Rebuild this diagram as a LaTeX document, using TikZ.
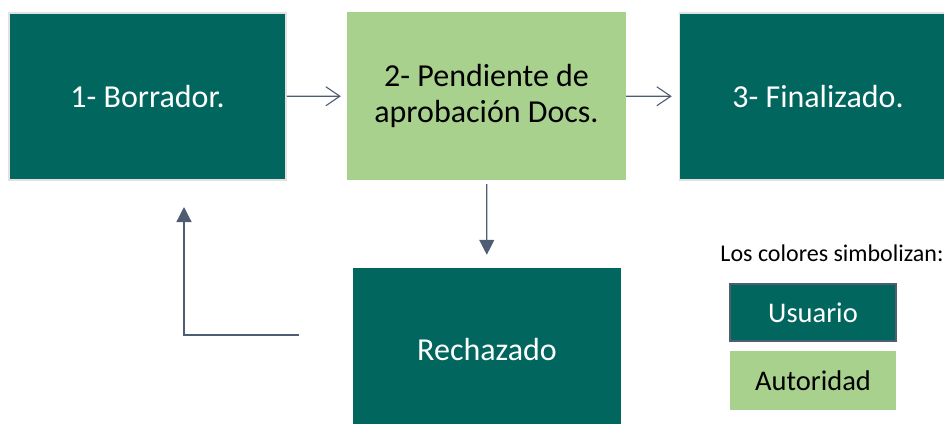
\documentclass[tikz,border=0pt]{standalone}
\usepackage{fontspec}
\setmainfont{Carlito}
\usetikzlibrary{arrows.meta}
\definecolor{stteal}{HTML}{00665E}
\definecolor{stgreen}{HTML}{A9D18E}
\definecolor{arrowgray}{HTML}{4F5D73}
\definecolor{edgegray}{HTML}{E2E2E2}

\begin{document}
\begin{tikzpicture}[x=1pt,y=-1pt,font=\fontsize{32}{36}\selectfont,
  stagebox/.style={rectangle,inner sep=0pt,align=center,minimum width=277,minimum height=167},
  userbox/.style={stagebox,fill=stteal,text=white},
  authbox/.style={stagebox,fill=stgreen,text=black},
  legendbox/.style={rectangle,inner sep=0pt,minimum width=166,minimum height=57,
    font=\fontsize{28.5}{33}\selectfont},
  openflow/.style={draw=arrowgray,line width=1.1pt,-{Straight Barb[length=14pt,width=19pt]}},
  solidflow/.style={draw=arrowgray,line width=1.3pt,-{Triangle[length=15pt,width=15pt]}}]
  \useasboundingbox (0,0) rectangle (944,423);
  % etapas del documento
  \node[userbox,draw=edgegray,line width=1.5pt] (borrador) at (147.5,96.5) {1- Borrador.};
  \node[authbox,minimum width=279,minimum height=168] (pendiente) at (486.5,96) {2- Pendiente de\\aprobación Docs.};
  \node[userbox,draw=edgegray,line width=1.5pt] (finalizado) at (818,96.5) {3- Finalizado.};
  \node[userbox,minimum width=268,minimum height=164] (rechazado) at (487,350) {Rechazado};
  % flujo
  \draw[openflow,shorten >=6] (borrador) -- (pendiente);
  \draw[openflow,shorten >=7] (pendiente) -- (finalizado);
  \draw[solidflow,shorten <=4,shorten >=13] (pendiente) -- (rechazado);
  \coordinate (retorno) at (299,335);
  \coordinate (reingreso) at (184,207);
  \draw[solidflow] (retorno) -| (reingreso);
  % leyenda
  \node[font=\fontsize{24}{28}\selectfont] (leyenda) at (832,253) {Los colores simbolizan:};
  \node[legendbox,fill=stteal,draw=arrowgray,line width=1.5pt,text=white] (usuario) at (813,312.5) {Usuario};
  \node[legendbox,fill=stgreen,minimum height=59] (autoridad) at (813,380.5) {Autoridad};
\end{tikzpicture}
\end{document}
